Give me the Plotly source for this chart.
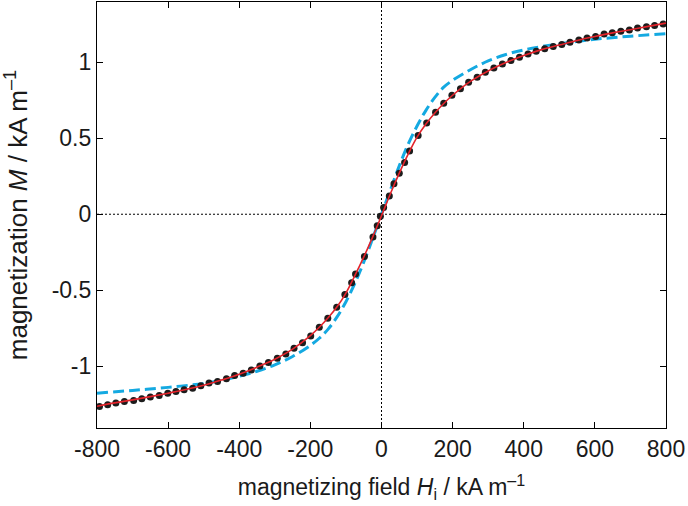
import plotly.graph_objects as go

# measured points (internal field kA/m, magnetization kA/m)
H_meas = [
    -793, -770, -747, -723, -697, -674, -650, -625, -601, -578, -555, -531,
    -508, -485, -461, -436, -413, -389, -366, -342, -318, -293, -269, -246,
    -222, -199, -175, -151, -126, -103, -84, -73, -48, -24, -12, -3,
    6, 22, 35, 50, 65, 79, 103, 127, 152, 175, 198, 222, 245, 269, 292, 316,
    340, 364, 388, 412, 435, 459, 483, 507, 530, 555, 578, 602, 626, 649,
    673, 697, 720, 745, 768, 792,
]
M_meas = [
    -1.264, -1.252, -1.241, -1.231, -1.224, -1.213, -1.202, -1.191, -1.176,
    -1.165, -1.154, -1.143, -1.128, -1.110, -1.100, -1.082, -1.060, -1.045,
    -1.023, -0.997, -0.975, -0.946, -0.918, -0.881, -0.844, -0.800, -0.743,
    -0.684, -0.612, -0.528, -0.451, -0.393, -0.278, -0.149, -0.075, -0.013,
    0.045, 0.120, 0.200, 0.270, 0.340, 0.415, 0.518, 0.599, 0.671, 0.730,
    0.782, 0.824, 0.868, 0.900, 0.933, 0.962, 0.988, 1.010, 1.032, 1.054,
    1.071, 1.087, 1.102, 1.115, 1.130, 1.146, 1.159, 1.169, 1.185, 1.193,
    1.202, 1.211, 1.224, 1.233, 1.241, 1.250,
]

# fitted curve (red)
H_fit = [
    -800, -750, -700, -650, -600, -550, -500, -450, -400, -350, -300, -250,
    -200, -175, -150, -125, -100, -75, -50, -25, 0, 25, 50, 75, 100, 125,
    150, 175, 200, 250, 300, 350, 400, 450, 500, 550, 600, 650, 700, 750, 800,
]
M_fit = [
    -1.262, -1.240, -1.220, -1.199, -1.176, -1.152, -1.124, -1.090, -1.052,
    -1.005, -0.953, -0.887, -0.798, -0.743, -0.680, -0.608, -0.518, -0.404,
    -0.282, -0.150, -0.010, 0.135, 0.270, 0.395, 0.507, 0.593, 0.665, 0.728,
    0.782, 0.873, 0.942, 0.997, 1.043, 1.082, 1.112, 1.142, 1.168, 1.192,
    1.213, 1.235, 1.256,
]

# Langevin model (blue dashed)
H_lang = [
    -800, -700, -600, -500, -450, -400, -350, -300, -250, -200, -175, -150,
    -125, -100, -75, -50, -25, 0, 25, 50, 75, 100, 125, 150, 175, 200, 250,
    300, 350, 400, 450, 500, 600, 700, 800,
]
M_lang = [
    -1.176, -1.158, -1.138, -1.112, -1.092, -1.065, -1.032, -0.990, -0.935,
    -0.862, -0.815, -0.755, -0.675, -0.575, -0.455, -0.315, -0.160, 0.000,
    0.160, 0.318, 0.460, 0.580, 0.683, 0.768, 0.835, 0.880, 0.950, 1.008,
    1.050, 1.080, 1.102, 1.120, 1.150, 1.170, 1.187,
]

x_ticks = [-800, -600, -400, -200, 0, 200, 400, 600, 800]
x_ticklabels = ["-800", "-600", "-400", "-200", "0", "200", "400", "600", "800"]
y_ticks = [-1, -0.5, 0, 0.5, 1]
y_ticklabels = ["-1", "-0.5", "0", "0.5", "1"]

FONT = "Liberation Sans, Arial, sans-serif"

fig = go.Figure()
fig.add_trace(go.Scatter(
    x=H_lang, y=M_lang, mode="lines", line_shape="spline",
    line=dict(color="#14a9e1", width=3, dash="11px,5px"),
))
fig.add_trace(go.Scatter(
    x=H_meas, y=M_meas, mode="markers",
    marker=dict(color="#1c1c1c", size=7),
))
fig.add_trace(go.Scatter(
    x=H_fit, y=M_fit, mode="lines", line_shape="spline",
    line=dict(color="#e3232b", width=1.6),
))

fig.add_vline(x=0, line=dict(color="black", width=1, dash="2px,2px"), layer="below")
fig.add_hline(y=0, line=dict(color="black", width=1, dash="2px,2px"), layer="below")

axis_common = dict(
    showline=True, linecolor="black", linewidth=1.2, mirror="ticks",
    ticks="inside", ticklen=6, tickwidth=1, tickcolor="black",
    showgrid=False, zeroline=False, automargin=False,
    tickfont=dict(family=FONT, size=23, color="#1a1a1a"),
)

fig.update_layout(
    width=688, height=506,
    margin=dict(l=97, r=22, t=2, b=78),
    paper_bgcolor="white", plot_bgcolor="white",
    showlegend=False,
    font=dict(family=FONT, color="#1a1a1a"),
    xaxis=dict(
        range=[-800, 800], tickvals=x_ticks, ticktext=x_ticklabels,
        title=dict(text="magnetizing field <i>H</i><sub>i</sub> / kA m<sup>–1</sup>",
                   font=dict(size=23), standoff=18),
        **axis_common,
    ),
    yaxis=dict(
        range=[-1.405, 1.395], tickvals=y_ticks, ticktext=y_ticklabels,
        title=dict(text="magnetization <i>M</i> / kA m<sup>–1</sup>",
                   font=dict(size=26), standoff=16),
        **axis_common,
    ),
)

# page body has a default 8px margin; drop it so the figure sits at the corner
fig.write_html(
    "out.html",
    config={"displayModeBar": False},
    post_script="document.body.style.margin='0';",
)
